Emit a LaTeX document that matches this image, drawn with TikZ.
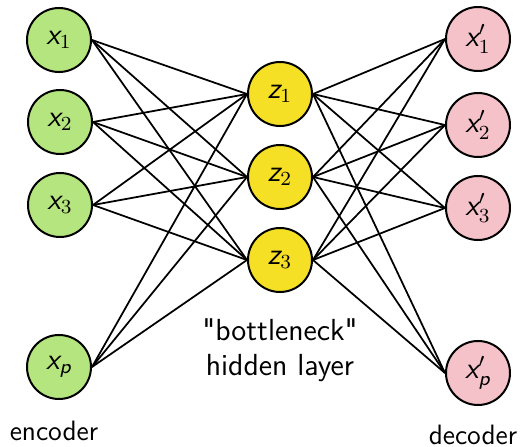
\documentclass[tikz,border=0pt]{standalone}
\usepackage{fontspec}
\usepackage{amstext}
\newcommand{\sfit}[1]{\textsf{\itshape #1}}
\definecolor{verdeclaro}{RGB}{181,229,127}
\definecolor{amarelo}{RGB}{246,224,38}
\definecolor{rosa}{RGB}{244,194,200}
\begin{document}
\begin{tikzpicture}[x=0.4pt, y=-0.4pt]

  % ── Estilos dos neurônios ────────────────────────
  \tikzset{
    neuronio/.style = {circle, draw, line width=0.8pt, minimum size=25.6pt, inner sep=0pt, font=\fontsize{12}{14}\selectfont},
    entrada/.style = {neuronio, fill=verdeclaro},
    gargalo/.style = {neuronio, fill=amarelo},
    saida/.style = {neuronio, fill=rosa},
    ligacao/.style = {line width=0.7pt},
    rotulo/.style = {font=\sffamily\fontsize{11.2}{13}\selectfont, align=center}
  }

  \useasboundingbox (0,0) rectangle (523,447);

  % =========================================================
  % 1. CAMADA DE ENTRADA (ENCODER)
  % =========================================================
  \node[entrada] (x1) at (59, 40)  {$\sfit{x}_1$};
  \node[entrada] (x2) at (60, 122) {$\sfit{x}_2$};
  \node[entrada] (x3) at (60, 205) {$\sfit{x}_3$};
  \node[entrada] (xp) at (59, 367) {$\sfit{x}_{\sfit{p}}$};

  % =========================================================
  % 2. CAMADA OCULTA ("GARGALO")
  % =========================================================
  \node[gargalo] (z1) at (280, 94)  {$\sfit{z}_1$};
  \node[gargalo] (z2) at (280, 177) {$\sfit{z}_2$};
  \node[gargalo] (z3) at (280, 260) {$\sfit{z}_3$};

  % =========================================================
  % 3. CAMADA DE SAÍDA (DECODER)
  % =========================================================
  \node[saida] (y1) at (478, 39)  {$\sfit{x}'_1$};
  \node[saida] (y2) at (478, 125) {$\sfit{x}'_2$};
  \node[saida] (y3) at (478, 208) {$\sfit{x}'_3$};
  \node[saida] (yp) at (478, 373) {$\sfit{x}'_{\sfit{p}}$};

  % Ligações entre as camadas
  \foreach \a in {x1,x2,x3,xp}
    \foreach \b in {z1,z2,z3}
      \draw[ligacao] (\a.east) -- (\b.west);
  \foreach \b in {z1,z2,z3}
    \foreach \c in {y1,y2,y3,yp}
      \draw[ligacao] (\b.east) -- (\c.west);

  % Rótulos
  \node[rotulo] (enc) at (54, 431) {encoder};
  \node[rotulo] (dec) at (473, 435) {decoder};
  \node[rotulo, font=\sffamily\fontsize{12.2}{14}\selectfont] (bott) at (280, 350)
    {\textquotedbl bottleneck\textquotedbl\\hidden layer};

\end{tikzpicture}
\end{document}
